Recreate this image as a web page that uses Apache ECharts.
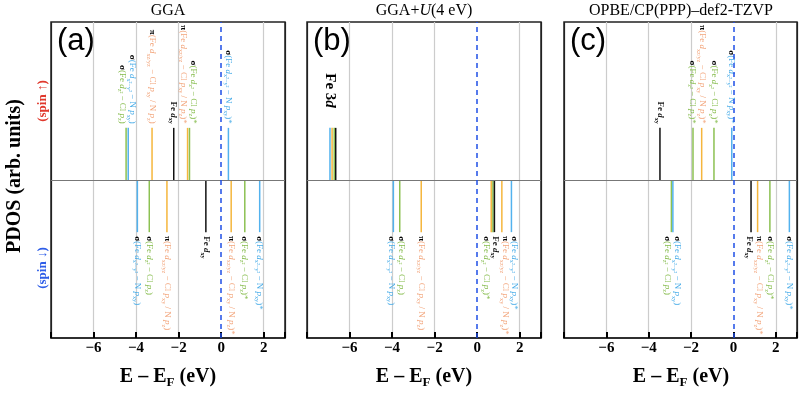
<!DOCTYPE html>
<html>
<head>
<meta charset="utf-8">
<script src="https://cdn.jsdelivr.net/npm/echarts@6/dist/echarts.min.js"></script>
<style>
  html, body { margin: 0; padding: 0; background: #fff; }
  #main { width: 800px; height: 393px; }
</style>
</head>
<body>
<div id="main"></div>
<script>
// energies (eV, relative to E_F), colour kind and label id of each level
let aUpE = [-4.47, -4.37, -3.25, -2.23, -1.58, -1.49, 0.34];
let aUpC = ['sz', 'sx', 'pi', 'dxy', 'pi', 'sz', 'sx'];
let aUpL = ['sz', 'sx', 'pi', 'dxy', 'pi*', 'sz*', 'sx*'];
let aDnE = [-3.94, -3.38, -2.55, -0.72, 0.47, 1.11, 1.81];
let aDnC = ['sx', 'sz', 'pi', 'dxy', 'pi', 'sz', 'sx'];
let aDnL = ['sx', 'sz', 'pi', 'dxy', 'pi*', 'sz*', 'sx*'];

let bUpE = [-6.92, -6.82, -6.72, -6.65];
let bUpC = ['sx', 'pi', 'sz', 'dxy'];
let bUpL = ['3d', '', '', ''];
let bDnE = [-3.94, -3.64, -2.63, 0.66, 0.74, 0.81, 1.16, 1.61];
let bDnC = ['sx', 'sz', 'pi', 'pi', 'sz', 'dxy', 'pi', 'sx'];
let bDnL = ['sx', 'sz', 'pi', '', 'sz*', 'dxy', 'pi*', 'sx*'];

let cUpE = [-3.47, -1.91, -1.50, -0.92, -0.08];
let cUpC = ['dxy', 'sz', 'pi', 'sz', 'sx'];
let cUpL = ['dxy', 'sz*', 'pi*', 'sz*', 'sx*'];
let cDnE = [-2.93, -2.86, 0.83, 1.14, 1.72, 2.64];
let cDnC = ['sz', 'sx', 'dxy', 'pi', 'sz', 'sx'];
let cDnL = ['sz', 'sx', 'dxy', 'pi*', 'sz*', 'sx*'];

let stickH = 0.33;
let titles = ['GGA', '{n|GGA+}{i|U}{n|(4 eV)}', 'OPBE/CP(PPP)–def2-TZVP'];
let letters = ['(a)', '(b)', '(c)'];

let serif = '"Liberation Serif", "Times New Roman", serif';
let lineColors = { sx: '#52b2ee', sz: '#8cc152', pi: '#f5b63c', dxy: '#111' };
let textColors = { sx: '#48ace8', sz: '#84bb4a', pi: '#f2a47a', dxy: '#111' };

function richFor(c) {
  let col = textColors[c];
  let w = c === 'dxy' ? 'bold' : 'normal';
  return {
    k: { fontFamily: serif, fontWeight: 'bold', fontSize: 9, fill: '#000', lineHeight: 12 },
    t: { fontFamily: serif, fontWeight: w, fontSize: 9, fill: col, lineHeight: 12 },
    i: { fontFamily: serif, fontWeight: w, fontStyle: 'italic', fontSize: 9, fill: col, lineHeight: 12 },
    s: { fontFamily: serif, fontWeight: w, fontSize: 6.2, fill: col, lineHeight: 7, verticalAlign: 'bottom' },
    b: { fontFamily: serif, fontWeight: 'bold', fontSize: 15, fill: '#000', lineHeight: 18 },
    bi: { fontFamily: serif, fontWeight: 'bold', fontStyle: 'italic', fontSize: 15, fill: '#000', lineHeight: 18 }
  };
}

function labelText(id) {
  let star = id.indexOf('*') >= 0 ? '*' : '';
  let base = id.replace('*', '');
  if (base === 'sx') return '{k|σ}{t|(Fe }{i|d}{s|x²−y²}{t| − N }{i|p}{s|xy}{t|)' + star + '}';
  if (base === 'sz') return '{k|σ}{t|(Fe }{i|d}{s|z²}{t| − Cl }{i|p}{s|z}{t|)' + star + '}';
  if (base === 'pi') return '{k|π}{t|(Fe }{i|d}{s|xz/yz}{t| − Cl }{i|p}{s|xy}{t| / N }{i|p}{s|z}{t|)' + star + '}';
  if (base === 'dxy') return '{t|Fe }{i|d}{s|xy}';
  if (base === '3d') return '{b|Fe 3}{bi|d}';
  return '';
}

// push label positions apart so they do not overlap
function spread(xs, gap) {
  let idx = xs.map(function (x, i) { return i; }).sort(function (a, b) { return xs[a] - xs[b]; });
  let p = xs.slice();
  for (let it = 0; it < 200; it++) {
    let moved = false;
    for (let k = 1; k < idx.length; k++) {
      let i = idx[k - 1], j = idx[k];
      let d = p[j] - p[i];
      if (d < gap - 0.01) {
        let s = (gap - d) / 2;
        p[i] -= s; p[j] += s; moved = true;
      }
    }
    if (!moved) break;
  }
  return p;
}

function stickSeries(panel, E, C, L, up, withMarks) {
  let sign = up ? 1 : -1;
  let s = {
    type: 'custom',
    xAxisIndex: panel,
    yAxisIndex: panel,
    data: E.map(function (e) { return [e, sign * stickH]; }),
    encode: { x: 0, y: 1 },
    silent: true,
    animation: false,
    renderItem: function (params, api) {
      let i = params.dataIndex;
      let p0 = api.coord([E[i], 0]);
      let p1 = api.coord([E[i], api.value(1)]);
      let children = [{
        type: 'line',
        shape: { x1: p0[0], y1: p0[1], x2: p1[0], y2: p1[1] },
        style: { stroke: lineColors[C[i]], lineWidth: 1.5 }
      }];
      if (L[i]) {
        let ids = [], xs = [];
        for (let j = 0; j < E.length; j++) {
          if (L[j]) { ids.push(j); xs.push(api.coord([E[j], 0])[0]); }
        }
        let px = spread(xs, 9.5)[ids.indexOf(i)];
        let gap = L[i] === '3d' ? 20 : 4;
        children.push({
          type: 'text',
          x: px,
          y: up ? p1[1] - gap : p1[1] + gap,
          rotation: -Math.PI / 2,
          style: {
            text: labelText(L[i]),
            rich: richFor(C[i]),
            align: up ? 'right' : 'left',
            verticalAlign: 'middle'
          }
        });
      }
      return { type: 'group', children: children };
    }
  };
  if (withMarks) {
    s.markLine = {
      silent: true,
      symbol: 'none',
      animation: false,
      label: { show: false },
      data: [
        { yAxis: 0, lineStyle: { color: '#777', type: 'solid', width: 1 } },
        { xAxis: 0, lineStyle: { color: '#1f4fe6', type: [5, 4], width: 1.5 } }
      ]
    };
  }
  return s;
}

let lefts = [51, 307, 564];
let centers = lefts.map(function (l) { return l + 117; });

let grids = [], xAxes = [], yAxes = [];
for (let g = 0; g < 3; g++) {
  grids.push({
    left: lefts[g], top: 22, width: 234, height: 316,
    show: true, borderColor: '#222', borderWidth: 1.5, backgroundColor: 'transparent'
  });
  xAxes.push({
    type: 'value', gridIndex: g, min: -8, max: 3, interval: 2,
    axisLine: { show: true, onZero: false, lineStyle: { color: '#222', width: 1.5 } },
    axisTick: { show: true, inside: true, length: 6, lineStyle: { color: '#000', width: 2 } },
    axisLabel: {
      margin: 3, color: '#000', fontFamily: serif, fontWeight: 'bold', fontSize: 15,
      formatter: function (v) {
        if (v <= -8 || v >= 3) return '';
        return v < 0 ? '−' + (-v) : String(v);
      }
    },
    splitLine: {
      show: true,
      lineStyle: { color: ['#222', '#ccc', '#ccc', '#ccc', 'rgba(0,0,0,0)', '#ccc', '#222'], width: 1.2 }
    }
  });
  yAxes.push({ type: 'value', gridIndex: g, min: -1, max: 1, show: false });
}

let graphics = [];
for (let g = 0; g < 3; g++) {
  graphics.push({
    type: 'text', x: centers[g], y: 11,
    style: {
      text: g === 1 ? titles[g] : '{n|' + titles[g] + '}',
      rich: {
        n: { fontFamily: serif, fontSize: 16, fill: '#000' },
        i: { fontFamily: serif, fontSize: 16, fontStyle: 'italic', fill: '#000' }
      },
      align: 'center', verticalAlign: 'middle'
    }
  });
  graphics.push({
    type: 'text', x: lefts[g] + 6, y: 41,
    style: {
      text: letters[g], fontFamily: '"Liberation Sans", Arial, sans-serif', fontSize: 31,
      fill: '#000', align: 'left', verticalAlign: 'middle'
    }
  });
  graphics.push({
    type: 'text', x: centers[g], y: 377,
    style: {
      text: '{b|E – E}{s|F}{b| (eV)}',
      rich: {
        b: { fontFamily: serif, fontWeight: 'bold', fontSize: 20, fill: '#000', lineHeight: 24 },
        s: { fontFamily: serif, fontWeight: 'bold', fontSize: 13, fill: '#000', lineHeight: 14, verticalAlign: 'bottom' }
      },
      align: 'center', verticalAlign: 'middle'
    }
  });
}
graphics.push({
  type: 'text', x: 15, y: 176, rotation: Math.PI / 2,
  style: { text: 'PDOS (arb. units)', fontFamily: serif, fontWeight: 'bold', fontSize: 20, fill: '#000', align: 'center', verticalAlign: 'middle' }
});
graphics.push({
  type: 'text', x: 43, y: 101, rotation: Math.PI / 2,
  style: { text: '(spin ↑)', fontFamily: serif, fontWeight: 'bold', fontSize: 13, fill: '#e0392d', align: 'center', verticalAlign: 'middle' }
});
graphics.push({
  type: 'text', x: 43, y: 268, rotation: Math.PI / 2,
  style: { text: '(spin ↓)', fontFamily: serif, fontWeight: 'bold', fontSize: 13, fill: '#2f5ee8', align: 'center', verticalAlign: 'middle' }
});

let chart = echarts.init(document.getElementById('main'), null, { renderer: 'canvas' });
chart.setOption({
  animation: false,
  backgroundColor: '#fff',
  grid: grids,
  xAxis: xAxes,
  yAxis: yAxes,
  graphic: graphics,
  series: [
    stickSeries(0, aUpE, aUpC, aUpL, true, true),
    stickSeries(0, aDnE, aDnC, aDnL, false, false),
    stickSeries(1, bUpE, bUpC, bUpL, true, true),
    stickSeries(1, bDnE, bDnC, bDnL, false, false),
    stickSeries(2, cUpE, cUpC, cUpL, true, true),
    stickSeries(2, cDnE, cDnC, cDnL, false, false)
  ]
});
</script>
</body>
</html>
